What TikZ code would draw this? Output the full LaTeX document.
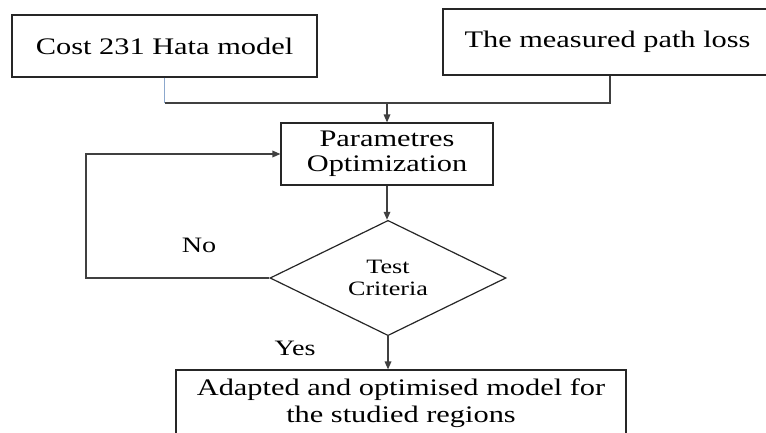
\documentclass[tikz,border=0pt]{standalone}
\usepackage{fontspec}
\setmainfont{Liberation Serif}[FakeStretch=1.28]
\usetikzlibrary{shapes.geometric,arrows.meta}
\begin{document}
\begin{tikzpicture}[x=0.75pt,y=-0.75pt,
  box/.style={draw=black!85,line width=0.9pt,rectangle,inner sep=0pt,align=center,
    font=\fontsize{17.8}{18.75}\selectfont},
  decision/.style={draw=black!85,line width=0.9pt,diamond,inner sep=0pt,align=center,
    font=\fontsize{15.3}{16.5}\selectfont},
  conn/.style={draw=black!75,line width=0.9pt},
  arr/.style={conn,-{Triangle[length=6pt,width=5pt]}},
  lbl/.style={font=\fontsize{16.5}{18}\selectfont,anchor=base,inner sep=0pt}]
\useasboundingbox (0,0) rectangle (766,432);

\node[box,minimum width=228.75pt,minimum height=46.5pt] (cost) at (164.5,46) {Cost 231 Hata model};
\node[box,minimum width=246.75pt,minimum height=49.5pt] (meas) at (607.5,42) {The measured path loss};
\node[box,minimum width=159pt,minimum height=46.5pt] (opt) at (387,154) {Parametres\\Optimization};
\node[decision,minimum width=177pt,minimum height=66pt] (test) at (388,278) {Test\\Criteria};
\node[box,minimum width=337.5pt,minimum height=49.5pt,
  font=\fontsize{17.8}{20.25}\selectfont] (adapt) at (401,403) {Adapted and optimised model for\\the studied regions};

\coordinate (j1) at (164.5,103);
\coordinate (j2) at (610,103);
\coordinate (j3) at (387,103);
\coordinate (l1) at (86,278);
\coordinate (l2) at (86,154);

\draw[conn,draw={rgb,255:red,140;green,168;blue,205}] (cost.south) -- (j1);
\draw[conn] (j1) -- (j2) -- (meas.south -| j2);
\draw[arr] (j3) -- (opt.north);
\draw[arr] (opt.south) -- (opt.south |- test.north);
\draw[arr] (test.west) -- (l1) -- (l2) -- (opt.west);
\draw[arr] (test.south) -- (adapt.north -| test.south);

\node[lbl] (no) at (199,252) {No};
\node[lbl] (yes) at (295,355) {Yes};
\end{tikzpicture}
\end{document}
